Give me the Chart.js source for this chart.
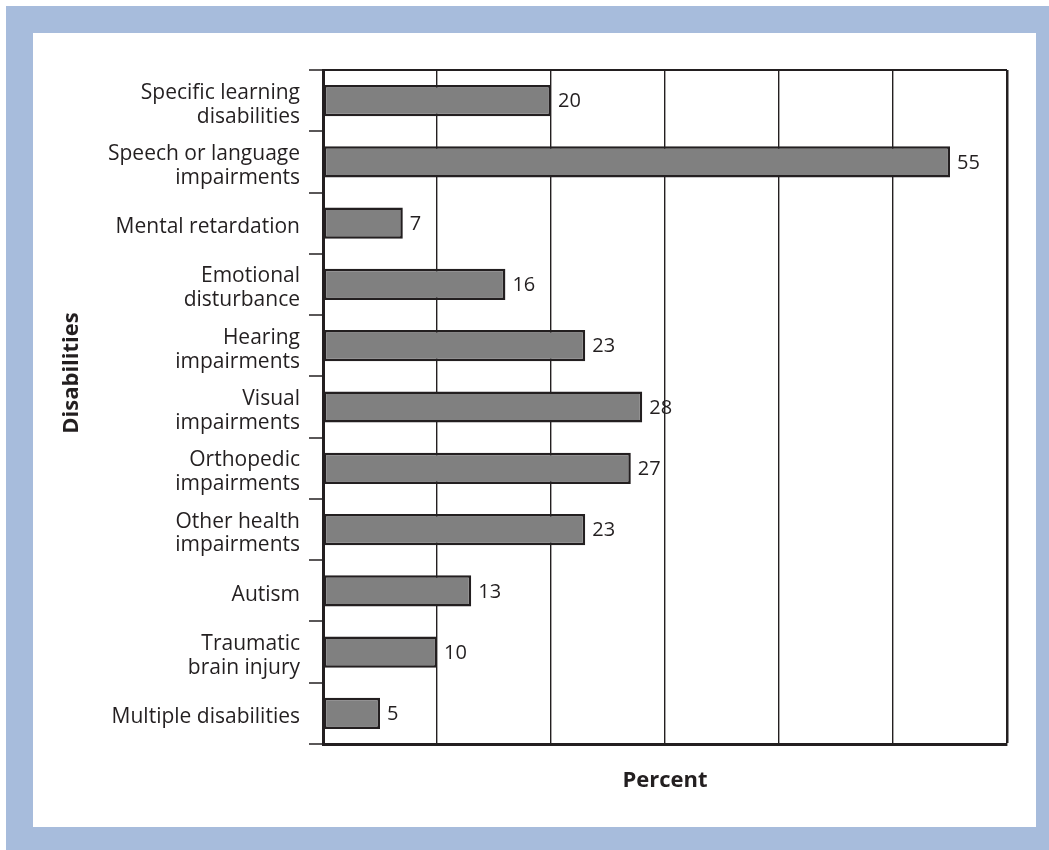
<!DOCTYPE html>
<html>
<head>
<meta charset="utf-8">
<title>Disabilities by percent</title>
<script src="https://cdn.jsdelivr.net/npm/chart.js@4.4.1/dist/chart.umd.min.js"></script>
<style>
  html, body { margin: 0; padding: 0; background: #fff; }
  #frame { position: absolute; left: 6px; top: 6px; width: 1043px; height: 844px; background: #a7bcdc; }
  #panel { position: absolute; left: 27px; top: 27px; width: 1003px; height: 794px; background: #fff; }
  canvas { display: block; }
</style>
</head>
<body>
<div id="frame">
  <div id="panel"><canvas id="chart" width="1003" height="794"></canvas></div>
</div>
<script>
const categories = [
    ['Specific learning', 'disabilities'],
    ['Speech or language', 'impairments'],
    'Mental retardation',
    ['Emotional', 'disturbance'],
    ['Hearing', 'impairments'],
    ['Visual', 'impairments'],
    ['Orthopedic', 'impairments'],
    ['Other health', 'impairments'],
    'Autism',
    ['Traumatic', 'brain injury'],
    'Multiple disabilities'
];
const percents = [20, 55, 7, 16, 23, 28, 27, 23, 13, 10, 5];
const xMax = 60;
const xStep = 10;

const INK = '#231f20';
const FONT = "'Open Sans', 'DejaVu Sans', sans-serif";

// value printed just past the end of each bar
const barValues = {
    id: 'barValues',
    afterDatasetsDraw(chart) {
        const ctx = chart.ctx;
        const meta = chart.getDatasetMeta(0);
        ctx.save();
        ctx.fillStyle = INK;
        ctx.font = `20px ${FONT}`;
        ctx.textAlign = 'left';
        ctx.textBaseline = 'middle';
        meta.data.forEach((bar, i) => {
            ctx.fillText(String(percents[i]), bar.x + 7, bar.y + 1);
        });
        ctx.restore();
    }
};

// rotated side title, sits a bit above the middle of the axis
const sideTitle = {
    id: 'sideTitle',
    afterDraw(chart) {
        const ctx = chart.ctx;
        const area = chart.chartArea;
        ctx.save();
        ctx.translate(39, (area.top + area.bottom) / 2 - 34);
        ctx.rotate(-Math.PI / 2);
        ctx.fillStyle = INK;
        ctx.font = `bold 22px ${FONT}`;
        ctx.textAlign = 'center';
        ctx.textBaseline = 'middle';
        ctx.fillText('Disabilities', 0, 0);
        ctx.restore();
    }
};

new Chart(document.getElementById('chart'), {
    type: 'bar',
    data: {
        labels: categories,
        datasets: [{
            data: percents,
            backgroundColor: '#808080',
            borderColor: INK,
            borderWidth: 2.5,
            borderSkipped: false,
            categoryPercentage: 1,
            barPercentage: 0.51
        }]
    },
    options: {
        indexAxis: 'y',
        responsive: false,
        animation: false,
        layout: { padding: { left: 0, top: 37, right: 29, bottom: 33 } },
        plugins: { legend: { display: false }, tooltip: { enabled: false } },
        scales: {
            x: {
                min: 0,
                max: xMax,
                ticks: { display: false, stepSize: xStep },
                grid: {
                    color: INK,
                    lineWidth: (c) => (c.tick && c.tick.value === xMax ? 2.5 : 1.4),
                    drawTicks: false
                },
                border: { display: true, color: INK, width: 3 },
                title: {
                    display: true,
                    text: 'Percent',
                    color: INK,
                    font: { family: FONT, size: 22, weight: 'bold' },
                    padding: { top: 0, bottom: 0 }
                },
                afterFit(scale) { scale.height = 50; }
            },
            y: {
                ticks: {
                    color: INK,
                    font: { family: FONT, size: 21, lineHeight: 1.14 },
                    padding: 9,
                    labelOffset: 4,
                    autoSkip: false
                },
                grid: {
                    color: (c) => (c.index === 0 ? INK : 'rgba(0,0,0,0)'),
                    lineWidth: 2,
                    tickColor: INK,
                    tickWidth: 1.5,
                    tickLength: 14
                },
                border: { display: true, color: INK, width: 3 },
                afterFit(scale) { scale.width = 290; }
            }
        }
    },
    plugins: [barValues, sideTitle]
});
</script>
</body>
</html>
